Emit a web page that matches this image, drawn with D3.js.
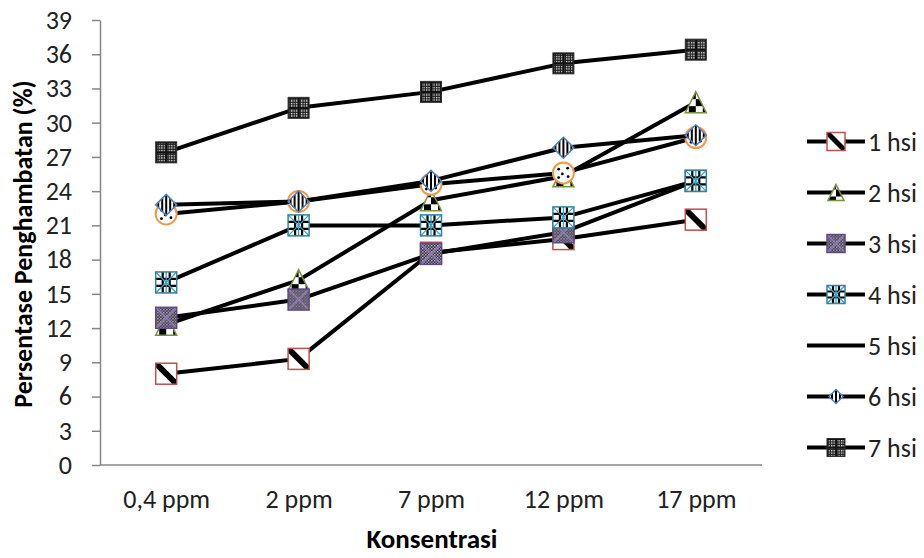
<!DOCTYPE html>
<html><head><meta charset="utf-8">
<script src="https://cdn.jsdelivr.net/npm/d3@7"></script>
<style>
html,body{margin:0;padding:0;background:#fff;}
svg{display:block;font-family:Carlito,Calibri,Lato,sans-serif;}
</style></head>
<body>
<svg id="chart" width="924" height="558"></svg>
<script>
const categories = ["0,4 ppm", "2 ppm", "7 ppm", "12 ppm", "17 ppm"];
const seriesNames = ["1 hsi", "2 hsi", "3 hsi", "4 hsi", "5 hsi", "6 hsi", "7 hsi"];
const hsi1 = [8.0, 9.3, 18.6, 19.8, 21.5];
const hsi2 = [12.3, 16.2, 23.2, 25.3, 31.8];
const hsi3 = [12.9, 14.5, 18.5, 20.4, 24.9];
const hsi4 = [16.0, 21.0, 21.0, 21.7, 24.9];
const hsi5 = [22.0, 23.1, 24.6, 25.6, 28.7];
const hsi6 = [22.8, 23.1, 24.9, 27.8, 28.9];
const hsi7 = [27.4, 31.3, 32.7, 35.2, 36.4];
const yTicks = [0, 3, 6, 9, 12, 15, 18, 21, 24, 27, 30, 33, 36, 39];
const yTitle = "Persentase Penghambatan (%)";
const xTitle = "Konsentrasi";

const seriesValues = [hsi1, hsi2, hsi3, hsi4, hsi5, hsi6, hsi7];

const svg = d3.select("#chart");
const plot = {left: 100, right: 762, top: 20, bottom: 465};
const FONT = "Carlito,Calibri,Lato,sans-serif";

const x = d3.scalePoint().domain(categories).range([plot.left, plot.right]).padding(0.5);
const y = d3.scaleLinear().domain([0, 39]).range([plot.bottom, plot.top]);

// ---------- pattern defs ----------
const defs = svg.append("defs");
const pStripe = defs.append("pattern").attr("id","pStripe").attr("patternUnits","userSpaceOnUse")
  .attr("width",4).attr("height",4).attr("x",-1);
pStripe.append("rect").attr("width",4).attr("height",4).attr("fill","#fff");
pStripe.append("rect").attr("width",2).attr("height",4).attr("fill","#000");
const pCheck = defs.append("pattern").attr("id","pCheck").attr("patternUnits","userSpaceOnUse")
  .attr("width",14).attr("height",14).attr("x",-7).attr("y",-10);
pCheck.append("rect").attr("width",14).attr("height",14).attr("fill","#fff");
pCheck.append("rect").attr("width",7).attr("height",7).attr("fill","#000");
pCheck.append("rect").attr("x",7).attr("y",7).attr("width",7).attr("height",7).attr("fill","#000");
const pSmall = defs.append("pattern").attr("id","pSmall").attr("patternUnits","userSpaceOnUse")
  .attr("width",3).attr("height",3);
pSmall.append("rect").attr("width",3).attr("height",3).attr("fill","#262626");
pSmall.append("rect").attr("width",1.5).attr("height",1.5).attr("fill","#c4bcd4");
pSmall.append("rect").attr("x",1.5).attr("y",1.5).attr("width",1.5).attr("height",1.5).attr("fill","#9c92b4");
const pDots = defs.append("pattern").attr("id","pDots").attr("patternUnits","userSpaceOnUse")
  .attr("width",2.5).attr("height",2.5);
pDots.append("rect").attr("width",2.5).attr("height",2.5).attr("fill","#222");
pDots.append("rect").attr("width",1.3).attr("height",1.3).attr("fill","#e6e6e6");

let clipCount = 0;
function drawMarker(g, idx, s) {
  const h = s / 2;
  if (idx === 0) {
    const clipId = "clipm" + (clipCount++);
    g.append("clipPath").attr("id", clipId).append("rect")
      .attr("x",-h).attr("y",-h).attr("width",s).attr("height",s);
    g.append("rect").attr("x",-h).attr("y",-h).attr("width",s).attr("height",s).attr("fill","#fff");
    const cg = g.append("g").attr("clip-path","url(#"+clipId+")");
    [-1, 0, 1].forEach(k => {
      const off = k * h * 1.25;
      cg.append("line").attr("x1",-h*2+off).attr("y1",-h*2-off).attr("x2",h*2+off).attr("y2",h*2-off)
        .attr("stroke","#000").attr("stroke-width", s*0.28);
    });
    g.append("rect").attr("x",-h).attr("y",-h).attr("width",s).attr("height",s)
      .attr("fill","none").attr("stroke","#c0504d").attr("stroke-width",1.5);
  } else if (idx === 1) {
    const pts = [[0,-h],[h,h],[-h,h]];
    g.append("path").attr("d","M"+pts.map(p=>p.join(",")).join("L")+"Z")
      .attr("fill","url(#pCheck)").attr("stroke","#77933c").attr("stroke-width",1.5);
  } else if (idx === 2) {
    g.append("rect").attr("x",-h).attr("y",-h).attr("width",s).attr("height",s).attr("fill","url(#pSmall)");
    g.append("path").attr("d",`M${-h},${-h}L${h},${h}M${h},${-h}L${-h},${h}`)
      .attr("stroke","#9b80c8").attr("stroke-width",2).attr("opacity",0.7);
    g.append("rect").attr("x",-h).attr("y",-h).attr("width",s).attr("height",s)
      .attr("fill","none").attr("stroke","#5f4a82").attr("stroke-width",1.5);
  } else if (idx === 3) {
    g.append("rect").attr("x",-h).attr("y",-h).attr("width",s).attr("height",s).attr("fill","#fff");
    g.append("path").attr("d",`M${-h},${-h/3}L${h},${-h/3}M${-h},${h/3}L${h},${h/3}M${-h/3},${-h}L${-h/3},${h}M${h/3},${-h}L${h/3},${h}`)
      .attr("stroke","#000").attr("stroke-width",2.2);
    g.append("path").attr("d",`M${-h},${-h}L${h},${h}M${h},${-h}L${-h},${h}M0,${-h}L0,${h}`)
      .attr("stroke","#31a3c4").attr("stroke-width",1.3);
    g.append("rect").attr("x",-h).attr("y",-h).attr("width",s).attr("height",s)
      .attr("fill","none").attr("stroke","#31859c").attr("stroke-width",1.5);
  } else if (idx === 4) {
    g.append("circle").attr("r",h).attr("fill","#fff").attr("stroke","#f79646").attr("stroke-width",2);
    [[-h*0.45,-h*0.35],[h*0.4,-h*0.45],[-h*0.1,h*0.1],[-h*0.45,h*0.45],[h*0.45,h*0.35]].forEach(p => {
      g.append("circle").attr("cx",p[0]).attr("cy",p[1]).attr("r",1.4).attr("fill","#000");
    });
  } else if (idx === 5) {
    g.append("path").attr("d",`M0,${-h}L${h},0L0,${h}L${-h},0Z`)
      .attr("fill","url(#pStripe)").attr("stroke","#4f81bd").attr("stroke-width",1.5);
  } else if (idx === 6) {
    g.append("rect").attr("x",-h).attr("y",-h).attr("width",s).attr("height",s)
      .attr("fill","#111").attr("stroke","#333").attr("stroke-width",1);
    const q = h*0.78, gap = 1.2;
    [[-1,-1],[1,-1],[-1,1],[1,1]].forEach(([sx,sy]) => {
      g.append("rect").attr("x", sx<0 ? -h+1.5 : gap).attr("y", sy<0 ? -h+1.5 : gap)
        .attr("width",q).attr("height",q).attr("fill","url(#pDots)");
    });
  }
}

// ---------- axes ----------
const yAxis = svg.append("g").attr("transform",`translate(${plot.left},0)`)
  .call(d3.axisLeft(y).tickValues(yTicks).tickSize(8).tickSizeOuter(0).tickPadding(20).tickFormat(d3.format("d")));
yAxis.select(".domain").attr("stroke","#868686").attr("stroke-width",1.5);
yAxis.selectAll(".tick line").attr("stroke","#868686").attr("stroke-width",1.5);
yAxis.selectAll(".tick text").attr("fill","#222").style("font-size","26px").style("font-family",FONT);

const xAxis = svg.append("g").attr("transform",`translate(0,${plot.bottom})`)
  .call(d3.axisBottom(x).tickSize(0).tickSizeOuter(0).tickPadding(25));
xAxis.select(".domain").attr("stroke","#868686").attr("stroke-width",1.5)
  .attr("d",`M${plot.left},0H${plot.right}`);
xAxis.selectAll(".tick text").attr("fill","#222").style("font-size","26px").style("font-family",FONT);

// axis titles
svg.append("text").attr("transform",`translate(23,244) rotate(-90)`)
  .attr("text-anchor","middle").attr("dominant-baseline","central")
  .style("font-size","26px").style("font-weight","bold").attr("fill","#000").text(yTitle);
svg.append("text").attr("x", 432).attr("y", 548)
  .attr("text-anchor","middle")
  .style("font-size","27px").style("font-weight","bold").attr("fill","#000").text(xTitle);

// ---------- series ----------
const line = d3.line().x((d,i)=>x(categories[i])).y(d=>y(d));
const markerSize = 21;
seriesValues.forEach((vals, si) => {
  const sg = svg.append("g").attr("class","series s"+si);
  sg.append("path").datum(vals).attr("d",line).attr("fill","none")
    .attr("stroke","#000").attr("stroke-width",4).attr("stroke-linejoin","round");
  vals.forEach((v, i) => {
    const mg = sg.append("g").attr("transform",`translate(${x(categories[i])},${y(v)})`);
    drawMarker(mg, si, markerSize);
  });
});

// ---------- legend ----------
const legend = svg.append("g");
seriesNames.forEach((name, si) => {
  const ly = 141.5 + si * 51;
  legend.append("line").attr("x1",807).attr("x2",865).attr("y1",ly).attr("y2",ly)
    .attr("stroke","#000").attr("stroke-width",4);
  if (si !== 4) {
    const s = si === 5 ? 14 : (si === 1 ? 16 : 18);
    const mg = legend.append("g").attr("transform",`translate(836,${ly})`);
    drawMarker(mg, si, s);
  }
  legend.append("text").attr("x",868).attr("y",ly).attr("dominant-baseline","central")
    .style("font-size","26px").attr("fill","#222").text(name);
});
</script>
</body></html>
